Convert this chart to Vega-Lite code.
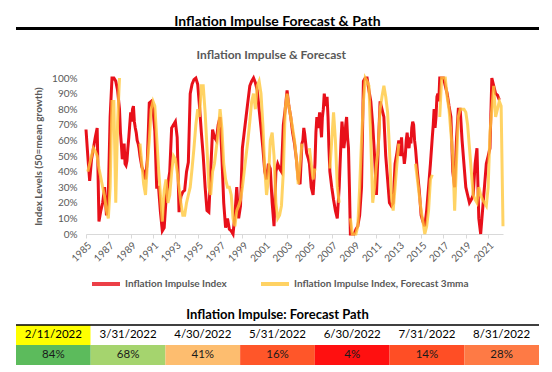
{
  "$schema": "https://vega.github.io/schema/vega-lite/v6.json",
  "background": "white",
  "padding": {"left": 14, "top": 15, "right": 0, "bottom": 0},
  "spacing": 17,
  "config": {
    "view": {"stroke": null},
    "font": "Lato",
    "axisY": {"labelOverlap": false, "domain": false, "ticks": false, "grid": false, "labelColor": "#595959", "labelFontSize": 10, "labelPadding": 9, "titleFontSize": 10, "titleFontWeight": "bold", "titleColor": "#595959", "titlePadding": 8},
    "axisX": {"labelOverlap": false, "grid": false, "labelAngle": -45, "labelFontSize": 10, "labelColor": "#595959", "labelPadding": 2, "tickColor": "#d9d9d9", "tickSize": 4, "domainColor": "#d9d9d9"}
  },
  "resolve": {"scale": {"color": "independent"}, "legend": {"color": "independent"}},
  "vconcat": [
    {
      "title": {"text": "Inflation Impulse Forecast & Path", "fontSize": 14, "fontWeight": "bold", "color": "#000000", "anchor": "middle", "offset": -2},
      "width": 523,
      "height": 5,
      "data": {"values": [{"line": 0.7}]},
      "mark": {"type": "rule", "strokeWidth": 3, "color": "#000000"},
      "encoding": {"y": {"field": "line", "type": "quantitative", "axis": null, "scale": {"domain": [0, 1]}}}
    },
    {
      "spacing": 16,
      "resolve": {"scale": {"color": "independent"}, "legend": {"color": "independent"}},
      "hconcat": [
        {
          "width": 1,
          "height": 156,
          "data": {"values": [{"line": 0}]},
          "mark": {"type": "rule", "opacity": 0},
          "encoding": {"y": {"field": "line", "type": "quantitative", "axis": null}}
        },
        {
          "title": {"text": "Inflation Impulse & Forecast", "fontSize": 12, "fontWeight": "bold", "color": "#595959", "anchor": "middle", "frame": "bounds", "offset": 10},
          "width": 417,
          "height": 156,
          "data": {"values": [
            {"d":"1985-01","i":67},
            {"d":"1985-03","i":50,"f":40},{"d":"1985-05","i":34,"f":45},{"d":"1985-07","i":48,"f":50},{"d":"1985-09","i":55,"f":55},{"d":"1985-11","i":62,"f":53},
            {"d":"1986-01","i":68,"f":50},{"d":"1986-03","i":8,"f":42},{"d":"1986-05","i":15,"f":36},{"d":"1986-07","i":20,"f":30},{"d":"1986-09","i":30,"f":24},{"d":"1986-11","i":12,"f":15},
            {"d":"1987-01","i":25,"f":10},{"d":"1987-03","i":75,"f":30},{"d":"1987-05","i":100,"f":85},{"d":"1987-07","i":100,"f":85},{"d":"1987-09","i":98,"f":20},{"d":"1987-11","i":92,"f":72},
            {"d":"1988-01","i":80,"f":100},{"d":"1988-02","i":65},{"d":"1988-03","i":58,"f":100},{"d":"1988-04","i":48},{"d":"1988-05","i":50,"f":90},{"d":"1988-06","i":58},{"d":"1988-07","i":45,"f":80},{"d":"1988-08","i":44},{"d":"1988-09","i":47,"f":68},{"d":"1988-10","i":55},{"d":"1988-11","i":62,"f":75},{"d":"1988-12","i":70},
            {"d":"1989-01","i":78,"f":90},{"d":"1989-02","i":72},{"d":"1989-03","i":80,"f":88},{"d":"1989-04","i":82},{"d":"1989-05","i":72,"f":85},{"d":"1989-06","i":68},{"d":"1989-07","i":65,"f":80},{"d":"1989-08","i":60},{"d":"1989-09","i":58,"f":70},{"d":"1989-10","i":55},{"d":"1989-11","i":50,"f":58},
            {"d":"1990-01","i":43,"f":45},{"d":"1990-03","i":40,"f":32},{"d":"1990-05","i":35,"f":25},{"d":"1990-07","i":48,"f":45},{"d":"1990-09","i":84,"f":60},{"d":"1990-11","i":85,"f":80},
            {"d":"1991-01","i":80,"f":85},{"d":"1991-03","i":66,"f":82},{"d":"1991-05","i":30,"f":62},{"d":"1991-07","i":30,"f":42},{"d":"1991-09","i":14,"f":25},{"d":"1991-11","i":2,"f":8},
            {"d":"1992-01","i":4,"f":28},{"d":"1992-03","i":22,"f":35},{"d":"1992-05","i":32,"f":20},{"d":"1992-07","i":40,"f":25},{"d":"1992-09","i":68,"f":40},{"d":"1992-11","i":70,"f":50},
            {"d":"1993-01","i":72,"f":48},{"d":"1993-03","i":62,"f":40},{"d":"1993-05","i":14,"f":30},{"d":"1993-07","i":24,"f":20},{"d":"1993-09","i":27,"f":12},{"d":"1993-11","i":28,"f":12},
            {"d":"1994-01","i":40,"f":20},{"d":"1994-03","i":46,"f":25},{"d":"1994-05","i":90,"f":30},{"d":"1994-07","i":96,"f":42},{"d":"1994-09","i":99,"f":55},{"d":"1994-11","i":100,"f":70},
            {"d":"1995-01","i":96,"f":80},{"d":"1995-03","i":82,"f":75},{"d":"1995-05","i":65,"f":95},{"d":"1995-07","i":50,"f":95},{"d":"1995-09","i":30,"f":78},{"d":"1995-11","i":15,"f":55},
            {"d":"1996-01","i":14,"f":30},{"d":"1996-03","i":40,"f":25},{"d":"1996-05","i":67,"f":40},{"d":"1996-07","i":62,"f":45},{"d":"1996-09","i":60,"f":55},{"d":"1996-11","i":70,"f":65},
            {"d":"1997-01","i":75,"f":80},{"d":"1997-03","i":50,"f":68},{"d":"1997-05","i":20,"f":45},{"d":"1997-07","i":4,"f":35},{"d":"1997-09","i":10,"f":30},{"d":"1997-11","i":3,"f":30},
            {"d":"1998-01","i":2,"f":25},{"d":"1998-03","i":0,"f":10},{"d":"1998-05","i":12,"f":5},{"d":"1998-07","i":30,"f":15},{"d":"1998-09","i":10,"f":18},{"d":"1998-11","i":18,"f":22},
            {"d":"1999-01","i":55,"f":30},{"d":"1999-03","i":65,"f":40},{"d":"1999-05","i":75,"f":50},{"d":"1999-07","i":85,"f":60},{"d":"1999-09","i":95,"f":72},{"d":"1999-11","i":98,"f":85},
            {"d":"2000-01","i":100,"f":90},{"d":"2000-03","i":97,"f":80},{"d":"2000-05","i":92,"f":95},{"d":"2000-07","i":80,"f":98},{"d":"2000-09","i":68,"f":90},{"d":"2000-11","i":55,"f":70},
            {"d":"2001-01","i":40,"f":42},{"d":"2001-03","i":35,"f":25},{"d":"2001-05","i":45,"f":35},{"d":"2001-07","i":42,"f":60},{"d":"2001-09","i":20,"f":65},{"d":"2001-11","i":5,"f":50},
            {"d":"2002-01","i":40,"f":20},{"d":"2002-03","i":45,"f":10},{"d":"2002-05","i":42,"f":12},{"d":"2002-07","i":40,"f":18},{"d":"2002-09","i":70,"f":40},{"d":"2002-11","i":80,"f":80},
            {"d":"2003-01","i":92,"f":90},{"d":"2003-03","i":82,"f":82},{"d":"2003-05","i":75,"f":75},{"d":"2003-07","i":65,"f":68},{"d":"2003-09","i":58,"f":60},{"d":"2003-11","i":48,"f":48},
            {"d":"2004-01","i":35,"f":32},{"d":"2004-03","i":32,"f":45},{"d":"2004-05","i":58,"f":58},{"d":"2004-06","i":60},{"d":"2004-07","i":68,"f":68},{"d":"2004-08","i":64},{"d":"2004-09","i":58,"f":70},{"d":"2004-10","i":52},{"d":"2004-11","i":50,"f":62},{"d":"2004-12","i":48},
            {"d":"2005-01","i":45,"f":55},{"d":"2005-03","i":30,"f":45},{"d":"2005-05","i":25,"f":35},{"d":"2005-07","i":45,"f":42},{"d":"2005-08","i":65},{"d":"2005-09","i":75,"f":50},{"d":"2005-10","i":68},{"d":"2005-11","i":72,"f":56},{"d":"2005-12","i":78},
            {"d":"2006-01","i":70,"f":60},{"d":"2006-02","i":62},{"d":"2006-03","i":75,"f":65},{"d":"2006-04","i":80},{"d":"2006-05","i":90,"f":75},{"d":"2006-06","i":85},{"d":"2006-07","i":82,"f":80},{"d":"2006-08","i":88},{"d":"2006-09","i":75,"f":65},{"d":"2006-10","i":55},{"d":"2006-11","i":40,"f":42},
            {"d":"2007-01","i":30,"f":60},{"d":"2007-03","i":22,"f":78},{"d":"2007-05","i":15,"f":60},{"d":"2007-07","i":10,"f":30},{"d":"2007-09","i":30,"f":20},{"d":"2007-10","i":45},{"d":"2007-11","i":60,"f":45},{"d":"2007-12","i":72},
            {"d":"2008-01","i":65,"f":60},{"d":"2008-02","i":55},{"d":"2008-03","i":60,"f":65},{"d":"2008-04","i":70},{"d":"2008-05","i":75,"f":60},{"d":"2008-06","i":62},{"d":"2008-07","i":55,"f":50},{"d":"2008-08","i":30},{"d":"2008-09","i":0,"f":10},{"d":"2008-11","i":0,"f":0},
            {"d":"2009-01","i":0,"f":0},{"d":"2009-03","i":3,"f":0},{"d":"2009-05","i":5,"f":5},{"d":"2009-07","i":12,"f":30},{"d":"2009-09","i":30,"f":60},{"d":"2009-11","i":98,"f":85},
            {"d":"2010-01","i":100,"f":100},{"d":"2010-03","i":100,"f":98},{"d":"2010-05","i":92,"f":95},{"d":"2010-07","i":85,"f":60},{"d":"2010-09","i":70,"f":20},{"d":"2010-11","i":50,"f":30},
            {"d":"2011-01","i":25,"f":45},{"d":"2011-03","i":55,"f":55},{"d":"2011-05","i":85,"f":80},{"d":"2011-07","i":80,"f":88},{"d":"2011-09","i":75,"f":95},{"d":"2011-11","i":50,"f":88},
            {"d":"2012-01","i":35,"f":78},{"d":"2012-03","i":20,"f":55},{"d":"2012-05","i":18,"f":25},{"d":"2012-07","i":20,"f":15},{"d":"2012-09","i":45,"f":30},{"d":"2012-11","i":52,"f":45},
            {"d":"2013-01","i":60,"f":58},{"d":"2013-02","i":50},{"d":"2013-03","i":55,"f":65},{"d":"2013-04","i":62},{"d":"2013-05","i":50,"f":80},{"d":"2013-06","i":52},{"d":"2013-07","i":45,"f":70},{"d":"2013-08","i":50},{"d":"2013-09","i":60,"f":60},{"d":"2013-10","i":65},{"d":"2013-11","i":58,"f":50},{"d":"2013-12","i":55},
            {"d":"2014-01","i":62,"f":45},{"d":"2014-02","i":58},{"d":"2014-03","i":68,"f":50},{"d":"2014-04","i":72},{"d":"2014-05","i":70,"f":48},{"d":"2014-06","i":60},{"d":"2014-07","i":55,"f":45},{"d":"2014-09","i":40,"f":35},{"d":"2014-11","i":28,"f":25},
            {"d":"2015-01","i":12,"f":15},{"d":"2015-03","i":8,"f":8},{"d":"2015-05","i":5,"f":0},{"d":"2015-07","i":15,"f":5},{"d":"2015-09","i":30,"f":15},{"d":"2015-11","i":45,"f":35},
            {"d":"2016-01","i":62,"f":38},{"d":"2016-02","i":70},{"d":"2016-03","i":80,"f":40},{"d":"2016-04","i":68},{"d":"2016-05","i":75,"f":45},{"d":"2016-06","i":88},{"d":"2016-07","i":90,"f":55},{"d":"2016-08","i":85},{"d":"2016-09","i":100,"f":75},{"d":"2016-11","i":100,"f":100},
            {"d":"2017-01","i":100,"f":100},{"d":"2017-03","i":95,"f":100},{"d":"2017-05","i":90,"f":88},{"d":"2017-07","i":82,"f":80},{"d":"2017-09","i":75,"f":65},{"d":"2017-11","i":40,"f":50},
            {"d":"2018-01","i":30,"f":15},{"d":"2018-03","i":60,"f":45},{"d":"2018-05","i":80,"f":75},{"d":"2018-07","i":80,"f":80},{"d":"2018-09","i":60,"f":80},{"d":"2018-11","i":45,"f":80},
            {"d":"2019-01","i":30,"f":78},{"d":"2019-03","i":25,"f":70},{"d":"2019-05","i":20,"f":55},{"d":"2019-07","i":22,"f":40},{"d":"2019-09","i":25,"f":25},{"d":"2019-11","i":45,"f":22},
            {"d":"2020-01","i":55,"f":20},{"d":"2020-03","i":10,"f":30},{"d":"2020-05","i":0,"f":25},{"d":"2020-07","i":15,"f":22},{"d":"2020-09","i":30,"f":20},{"d":"2020-11","i":45,"f":18},
            {"d":"2021-01","i":50,"f":30},{"d":"2021-03","i":55,"f":65},{"d":"2021-05","i":100,"f":80},{"d":"2021-07","i":95,"f":95},{"d":"2021-09","i":90,"f":75},{"d":"2021-11","i":89,"f":80},
            {"d":"2022-01","i":86,"f":85},{"d":"2022-03","f":82},{"d":"2022-05","f":5}
          ]},
          "encoding": {
            "x": {
              "field": "d", "type": "temporal",
              "scale": {"type": "utc", "domain": [{"year": 1985, "month": 1, "date": 1, "utc": true}, {"year": 2022, "month": 5, "date": 1, "utc": true}]},
              "axis": {
                "title": null, "format": "%Y", "formatType": "utc",
                "values": [{"year":1985,"utc":true},{"year":1987,"utc":true},{"year":1989,"utc":true},{"year":1991,"utc":true},{"year":1993,"utc":true},{"year":1995,"utc":true},{"year":1997,"utc":true},{"year":1999,"utc":true},{"year":2001,"utc":true},{"year":2003,"utc":true},{"year":2005,"utc":true},{"year":2007,"utc":true},{"year":2009,"utc":true},{"year":2011,"utc":true},{"year":2013,"utc":true},{"year":2015,"utc":true},{"year":2017,"utc":true},{"year":2019,"utc":true},{"year":2021,"utc":true}]
              }
            }
          },
          "layer": [
            {
              "mark": {"type": "line", "strokeWidth": 3},
              "encoding": {
                "y": {
                  "field": "i", "type": "quantitative",
                  "scale": {"domain": [0, 100]},
                  "axis": {"values": [0,10,20,30,40,50,60,70,80,90,100], "labelExpr": "datum.value + '%'", "labelOverlap": false, "title": "Index Levels (50=mean growth)"}
                },
                "color": {
                  "datum": "Inflation Impulse Index",
                  "scale": {"domain": ["Inflation Impulse Index", "Inflation Impulse Index, Forecast 3mma"], "range": ["#e8101a", "#ffc83d"]},
                  "legend": {
                    "title": null, "orient": "none", "direction": "horizontal", "legendX": 4, "legendY": 190,
                    "symbolType": "stroke", "symbolSize": 784, "symbolStrokeWidth": 4, "symbolOpacity": 1,
                    "labelFontSize": 10, "labelFontWeight": "bold", "labelColor": "#595959", "labelOffset": 3, "labelLimit": 400,
                    "columnPadding": 26, "padding": 0
                  }
                }
              }
            },
            {
              "mark": {"type": "line", "strokeWidth": 3, "opacity": 0.8},
              "encoding": {
                "y": {"field": "f", "type": "quantitative", "axis": {"values": [0,10,20,30,40,50,60,70,80,90,100], "labelExpr": "datum.value + '%'", "labelOverlap": false, "title": "Index Levels (50=mean growth)"}},
                "color": {"datum": "Inflation Impulse Index, Forecast 3mma"}
              }
            }
          ]
        }
      ]
    },
    {
      "title": {"text": "Inflation Impulse: Forecast Path", "fontSize": 13, "fontWeight": "bold", "color": "#000000", "anchor": "middle", "offset": 2},
      "width": 523,
      "height": 40,
      "data": {"values": [
        {"date": "2/11/2022", "pct": 0.84},
        {"date": "3/31/2022", "pct": 0.68},
        {"date": "4/30/2022", "pct": 0.41},
        {"date": "5/31/2022", "pct": 0.16},
        {"date": "6/30/2022", "pct": 0.04},
        {"date": "7/31/2022", "pct": 0.14},
        {"date": "8/31/2022", "pct": 0.28}
      ]},
      "encoding": {
        "x": {"field": "date", "type": "nominal", "sort": null, "axis": null, "scale": {"paddingInner": 0, "paddingOuter": 0}}
      },
      "layer": [
        {
          "mark": {"type": "rect"},
          "encoding": {
            "y": {"datum": "dates", "type": "nominal", "axis": null, "scale": {"domain": ["dates", "values"], "paddingInner": 0, "paddingOuter": 0}},
            "fill": {"condition": {"test": "datum.date === '2/11/2022'", "value": "#ffff00"}, "value": "#ffffff"}
          }
        },
        {
          "mark": {"type": "rect"},
          "encoding": {
            "y": {"datum": "values", "type": "nominal"},
            "fill": {"field": "pct", "type": "quantitative", "legend": null,
              "scale": {"domain": [0.04, 0.28, 0.41, 0.68, 0.84], "range": ["#ff1010", "#fe7a45", "#fdbd6f", "#a5d46e", "#5cbb5c"]}}
          }
        },
        {
          "mark": {"type": "text", "fontSize": 11.5, "color": "#000000"},
          "encoding": {
            "y": {"datum": "dates", "type": "nominal"},
            "text": {"field": "date", "type": "nominal"}
          }
        },
        {
          "mark": {"type": "text", "fontSize": 11.5, "color": "#1a1a1a"},
          "encoding": {
            "y": {"datum": "values", "type": "nominal"},
            "text": {"field": "pct", "type": "quantitative", "format": ".0%"}
          }
        },
        {
          "data": {"values": [{"row": "dates"}]},
          "mark": {"type": "rule", "strokeWidth": 1.5, "color": "#000000"},
          "encoding": {
            "x": null,
            "y": {"field": "row", "type": "nominal", "bandPosition": 0}
          }
        }
      ]
    }
  ]
}
